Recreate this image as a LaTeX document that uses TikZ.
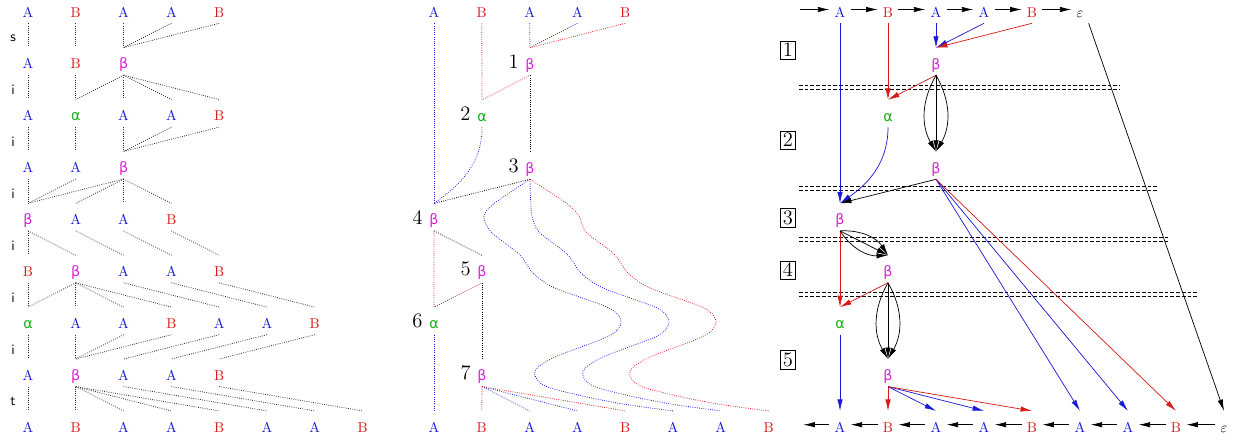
\documentclass[tikz,border=0pt]{standalone}
\usepackage{fontspec}
\usepackage{tikz}
\usetikzlibrary{arrows.meta}
\newfontfamily\grkfont{DejaVu Sans}

\definecolor{symA}{RGB}{25,25,215}
\definecolor{symB}{RGB}{215,25,25}
\definecolor{syma}{RGB}{25,175,25}
\definecolor{symb}{RGB}{215,35,215}

\newcommand\txtA{\textcolor{symA}{A}}
\newcommand\txtB{\textcolor{symB}{B}}
\newcommand\txta{\textcolor{syma}{\grkfont α}}
\newcommand\txtb{\textcolor{symb}{\grkfont β}}
\newcommand\txte{$\varepsilon$}

\begin{document}
\begin{tikzpicture}[x=0.7pt, y=-0.7pt,
    sym/.style={inner sep=0pt, text height=14.7pt, text depth=4.2pt, yshift=1.75pt},
    rowsym/.style={sym, inner xsep=3.5pt},
    side/.style={font=\sffamily},
    num/.style={font=\Large},
    boxnum/.style={draw, line width=0.5pt, inner sep=1.5pt, font=\Large},
    ldot/.style={densely dotted, line width=0.55pt, black!85},
    mdot/.style={densely dotted, line width=0.55pt},
    arr/.style={-{Latex[length=8pt, width=3.8pt]}, line width=0.5pt},
    sepline/.style={dash pattern=on 2.6pt off 1.4pt, line width=0.5pt}]
    \useasboundingbox (0,0) rectangle (1233,440);

    % draw left steps
    \foreach \r/\word in {0/{A,B,A,A,B}, 1/{A,B,b}, 2/{A,a,A,A,B}, 3/{A,A,b}, 4/{b,A,A,B},
                          5/{B,b,A,A,B}, 6/{a,A,A,B,A,A,B}, 7/{A,b,A,A,B}, 8/{A,B,A,A,B,A,A,B}}
      \foreach \s [count=\c from 0] in \word
        \node[sym] (l-\r-\c) at (28+47.8*\c, 12+51.9*\r) {\csname txt\s\endcsname};
    \foreach \lbl [count=\r from 0] in {s,i,i,i,i,i,i,t}
      \node[side] (side-\r) at (13, 38+51.9*\r) {\lbl};
    \foreach \r/\rr/\edges in {0/1/{0/0,1/1,2/2,3/2,4/2}, 1/2/{0/0,1/1,2/1,2/2,2/3,2/4},
                               2/3/{0/0,1/1,2/2,3/2,4/2}, 3/4/{0/0,1/0,2/0,2/1,2/2,2/3},
                               4/5/{0/0,0/1,1/2,2/3,3/4}, 5/6/{0/0,1/0,1/1,1/2,1/3,2/4,3/5,4/6},
                               6/7/{0/0,1/1,2/1,3/1,4/2,5/3,6/4}, 7/8/{0/0,1/1,1/2,1/3,1/4,2/5,3/6,4/7}}
      \foreach \a/\b in \edges
        \draw[ldot] (l-\r-\a.south) -- (l-\rr-\b.north);

    % draw middle derivation
    \foreach \s [count=\c from 0] in {A,B,A,A,B}
      \node[sym] (mt-\c) at (434+47.8*\c, 12) {\csname txt\s\endcsname};
    \foreach \s [count=\c from 0] in {A,B,A,A,B,A,A,B}
      \node[sym] (mb-\c) at (434+47.8*\c, 427.2) {\csname txt\s\endcsname};
    \foreach \k/\s/\x/\y in {1/b/530/64, 2/a/482/116, 3/b/530/168, 4/b/434/219.6,
                             5/b/482/271.5, 6/a/434/323.4, 7/b/482/375.3}
      \node[sym, label={[num, label distance=1pt]left:\k}] (m\k) at (\x,\y) {\csname txt\s\endcsname};

    \draw[mdot, symA] (mt-0.south) -- (m4.north);
    \draw[mdot, symB] (mt-1.south) -- (m2.north) -- (m1.south);
    \draw[mdot, symA] (mt-2.south) -- (m1.north);
    \draw[mdot, symA] (mt-3.south) -- (m1.north);
    \draw[mdot, symB] (mt-4.south) -- (m1.north);
    \draw[mdot] (m1.south) -- (m3.north);
    \draw[mdot, symA] (m2.south) to[out=-90, in=35] (m4.north);
    \draw[mdot] (m3.south) -- (m4.north);
    \foreach \x/\col/\e in {483/symA/5, 531/symA/6, 578/symB/7}
      \draw[mdot, \col] plot[smooth] coordinates {(m3.south) ({\x+0.25*(530-\x)},203) (\x+1,216)
        (\x+8,232) (\x+36,254) (\x+50,273) (\x+72,288) (\x+126,308) (\x+138,322) (\x+126,336)
        (\x+72,357) (\x+52,371) (\x+60,385) (\x+95,395) (\x+140,404) (mb-\e.north)};
    \draw[mdot] (m4.south) -- (m5.north);
    \draw[mdot, symB] (m4.south) -- (m6.north) -- (m5.south);
    \draw[mdot] (m5.south) -- (m7.north);
    \draw[mdot, symA] (m6.south) -- (mb-0.north);
    \draw[mdot, symB] (m7.south) -- (mb-1.north);
    \draw[mdot, symA] (m7.south) -- (mb-2.north);
    \draw[mdot, symA] (m7.south) -- (mb-3.north);
    \draw[mdot, symB] (m7.south) -- (mb-4.north);

    % draw right dependencies
    \foreach \s [count=\c from 0] in {A,B,A,A,B,e}
      \node[rowsym] (rt-\c) at (840+48*\c, 12) {\csname txt\s\endcsname};
    \foreach \s [count=\c from 0] in {A,B,A,A,B,A,A,B,e}
      \node[rowsym] (rb-\c) at (840+48*\c, 427.2) {\csname txt\s\endcsname};
    \foreach \k/\s/\x/\y in {1/b/936/64, 2/a/888/116, 3/b/936/168, 4/b/840/219.6,
                             5/b/888/271.5, 6/a/840/323.4, 7/b/888/375.3}
      \node[sym] (q\k) at (\x,\y) {\csname txt\s\endcsname};
    \foreach \k/\y in {1/50, 2/140, 3/218, 4/270, 5/360}
      \node[boxnum] (box\k) at (788,\y) {\k};

    \path (rt-0.west) ++(-29,0) coordinate (rin);
    \path (rb-0.west) ++(-26,0) coordinate (rout);
    \draw[arr] (rin) -- (rt-0.west);
    \foreach \c [evaluate=\c as \d using int(\c+1)] in {0,...,4}
      \draw[arr] (rt-\c.east) -- (rt-\d.west);
    \foreach \c [evaluate=\c as \d using int(\c+1)] in {0,...,7}
      \draw[arr] (rb-\d.west) -- (rb-\c.east);
    \draw[arr] (rb-0.west) -- (rout);

    % separators
    \foreach \y/\xe in {85/1120, 186/1159, 237/1168, 292/1198} {
      \draw[sepline] (799,\y) -- (\xe,\y);
      \draw[sepline] (799,\y+4) -- (\xe,\y+4);
    }

    \draw[arr, symA] (rt-0.south) -- (q4.north);
    \draw[arr, symB] (rt-1.south) -- (q2.north);
    \draw[arr, symA] (rt-2.south) -- (q1.north);
    \draw[arr, symA] (rt-3.south) -- (q1.north);
    \draw[arr, symB] (rt-4.south) -- (q1.north);
    \draw[arr] (rt-5.south east) -- (rb-8.north);
    \draw[arr, symB] (q1.south) -- (q2.north);
    \draw[arr, symA] (q2.south) to[out=-90, in=35] (q4.north);
    \draw[arr] (q3.south) -- (q4.north);
    \draw[arr, symA] (q3.south) -- (rb-5.north);
    \draw[arr, symA] (q3.south) -- (rb-6.north);
    \draw[arr, symB] (q3.south) -- (rb-7.north);
    \draw[arr, symB] (q4.south) -- (q6.north);
    \draw[arr, symB] (q5.south) -- (q6.north);
    \foreach \u/\v in {q1/q3, q4/q5, q5/q7}
      \foreach \bend in {0,30,-30}
        \draw[arr] (\u.south) to[bend left=\bend] (\v.north);
    \draw[arr, symA] (q6.south) -- (rb-0.north);
    \draw[arr, symB] (q7.south) -- (rb-1.north);
    \draw[arr, symA] (q7.south) -- (rb-2.north);
    \draw[arr, symA] (q7.south) -- (rb-3.north);
    \draw[arr, symB] (q7.south) -- (rb-4.north);
\end{tikzpicture}
\end{document}
